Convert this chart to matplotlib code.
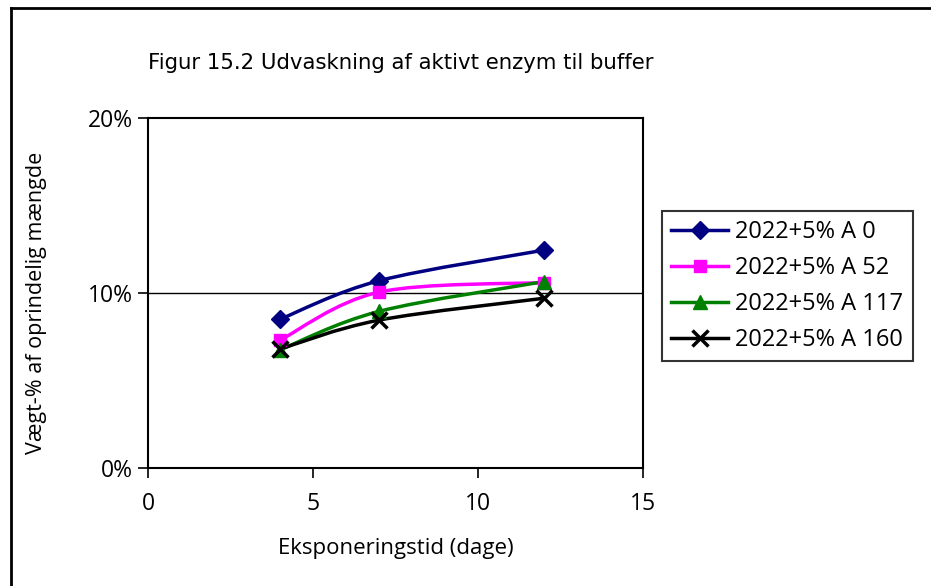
import matplotlib
matplotlib.use("Agg")
import matplotlib.pyplot as plt
from matplotlib.path import Path
from matplotlib.patches import PathPatch
from matplotlib.lines import Line2D
import numpy as np

# ---- data ----
days = [4, 7, 12]
series_names = ["2022+5% A 0", "2022+5% A 52", "2022+5% A 117", "2022+5% A 160"]
a0 = [8.5, 10.7, 12.45]
a52 = [7.3, 10.05, 10.6]
a117 = [6.75, 8.95, 10.65]
a160 = [6.8, 8.45, 9.7]
x_ticks = [0, 5, 10, 15]
y_ticks = [0, 10, 20]
y_tick_labels = ["0%", "10%", "20%"]

colors = ["#000080", "#FF00FF", "#008000", "#000000"]
markers = ["D", "s", "^", "x"]
msizes = [9, 9, 10, 11]

plt.rcParams['font.family'] = ['Open Sans', 'DejaVu Sans']

fig = plt.figure(figsize=(9.31, 5.86), dpi=100)
ax = fig.add_axes([148/931, 1-468/586, (643-148)/931, (468-118)/586])

def smooth_path(xs, ys):
    # Catmull-Rom style bezier (Excel smoothed line) through the data points
    pts = np.column_stack([xs, ys]).astype(float)
    n = len(pts)
    verts = [pts[0]]
    codes = [Path.MOVETO]
    for i in range(n - 1):
        p0 = pts[i - 1] if i > 0 else pts[i]
        p1 = pts[i]
        p2 = pts[i + 1]
        p3 = pts[i + 2] if i + 2 < n else pts[i + 1]
        c1 = p1 + (p2 - p0) / 6.0
        c2 = p2 - (p3 - p1) / 6.0
        verts += [c1, c2, p2]
        codes += [Path.CURVE4] * 3
    return Path(verts, codes)

all_series = [a0, a52, a117, a160]
handles = []
for vals, c, m, ms, name in zip(all_series, colors, markers, msizes, series_names):
    patch = PathPatch(smooth_path(days, vals), facecolor='none', edgecolor=c, lw=2.5, zorder=3)
    ax.add_patch(patch)
    mew = 2.5 if m == 'x' else 1
    ax.plot(days, vals, linestyle='none', marker=m, color=c, markersize=ms,
            markeredgewidth=mew, zorder=4, clip_on=False)
    handles.append(Line2D([], [], color=c, lw=2.5, marker=m, markersize=ms,
                          markeredgewidth=mew, label=name))

ax.axhline(10, color='black', lw=1, zorder=2)
ax.set_xlim(0, 15)
ax.set_ylim(0, 20)
ax.set_xticks(x_ticks)
ax.set_xticklabels([str(v) for v in x_ticks])
ax.set_yticks(y_ticks)
ax.set_yticklabels(y_tick_labels)
for s in ax.spines.values():
    s.set_linewidth(1.5)
    s.set_color('black')
ax.tick_params(axis='both', direction='out', length=7, width=1.2, labelsize=16.5, pad=4)
ax.tick_params(axis='x', pad=10)

ax.set_xlabel("Eksponeringstid (dage)", fontsize=16, labelpad=16)
ax.set_ylabel("Vægt-% af oprindelig mængde", fontsize=15.5)
ax.yaxis.set_label_coords(-(148-47)/495, (468-303)/350)

fig.text(148/931, 1-63/586, "Figur 15.2 Udvaskning af aktivt enzym til buffer",
         fontsize=15.3, ha='left', va='center',
         family=['Liberation Sans Narrow', 'DejaVu Sans'])

leg = fig.legend(handles=handles, loc='upper left',
                 bbox_to_anchor=(662/931, 1-211/586), fontsize=17,
                 frameon=True, fancybox=False, edgecolor='black',
                 handlelength=2.4, handletextpad=0.3, labelspacing=0.5,
                 borderpad=0.4, borderaxespad=0)
leg.get_frame().set_linewidth(1.5)

# outer chart frame (left and top edges visible)
fig.add_artist(Line2D([11/931, 11/931], [0, 1-8/586], color='black', lw=2, transform=fig.transFigure))
fig.add_artist(Line2D([11/931, 1], [1-8/586, 1-8/586], color='black', lw=2, transform=fig.transFigure))

fig.savefig("out.png", dpi=100)
